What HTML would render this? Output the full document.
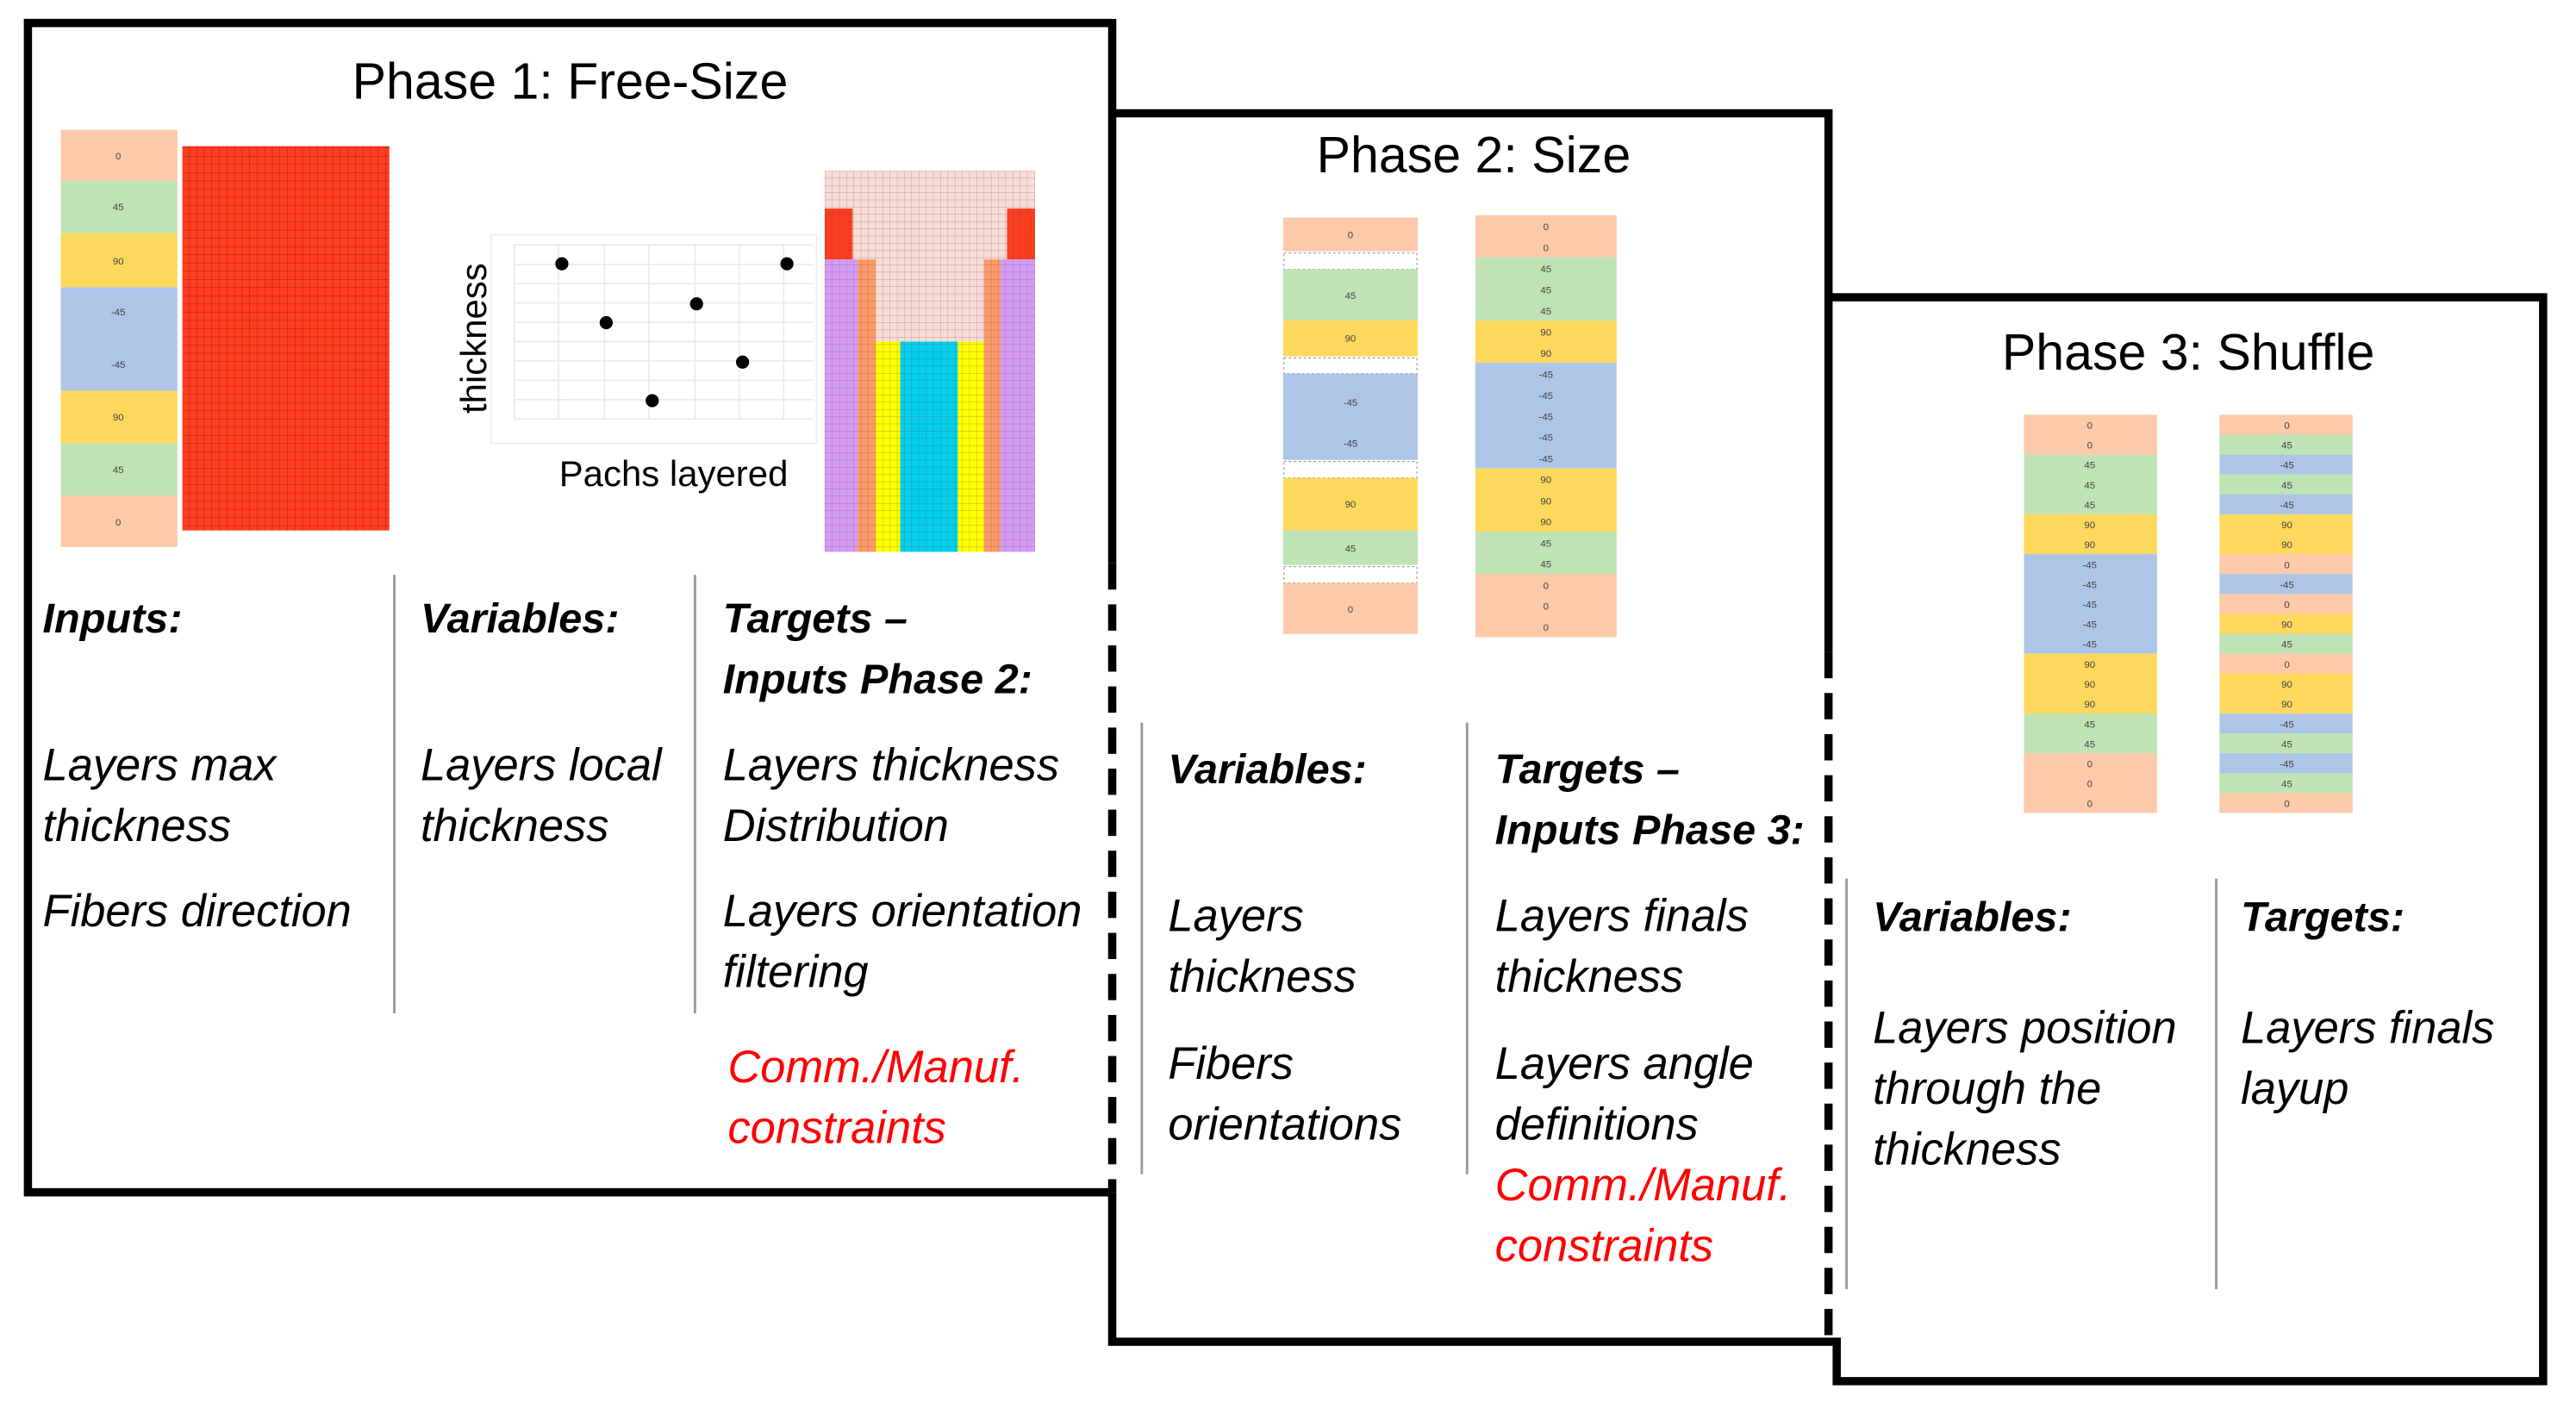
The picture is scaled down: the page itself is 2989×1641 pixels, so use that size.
<!DOCTYPE html>
<html><head><meta charset="utf-8"><style>
html,body{margin:0;padding:0;background:#fff;}
svg{display:block;}
text{font-family:"Liberation Sans",sans-serif;}
.t{font-size:31px;fill:#000;}
.h{font-size:25.5px;font-weight:bold;font-style:italic;fill:#000;}
.b{font-size:27.5px;font-style:italic;fill:#000;}
.r{font-size:27.5px;font-style:italic;fill:#f00;}
.s{font-size:6px;fill:#444;text-anchor:middle;}
</style></head><body>
<svg width="2989" height="1641" viewBox="0 0 1568 861" preserveAspectRatio="none" xmlns="http://www.w3.org/2000/svg">
<defs>
<pattern id="rg" width="4.6" height="5" patternUnits="userSpaceOnUse">
<rect width="4.6" height="5" fill="#ff3d1f"/>
<path d="M0 0H4.6M0 0V5" stroke="#a8200f" stroke-width="0.5"/>
</pattern>
<pattern id="pg" width="4.4" height="4.4" patternUnits="userSpaceOnUse" x="499" y="103">
<path d="M0 0H4.4M0 0V4.4" stroke="#7a4a50" stroke-width="0.35" opacity="0.6"/>
</pattern>
</defs>
<rect width="1568" height="861" fill="#fff"/>

<!-- Phase 1 -->
<text class="t" x="347" y="60" text-anchor="middle">Phase 1: Free-Size</text>
<rect x="37" y="79" width="71" height="31" fill="#fcc9a9"/>
<rect x="37" y="110" width="71" height="32" fill="#bfe3b4"/>
<rect x="37" y="142" width="71" height="33" fill="#fdd85d"/>
<rect x="37" y="175" width="71" height="63" fill="#aec5e7"/>
<rect x="37" y="238" width="71" height="32" fill="#fdd85d"/>
<rect x="37" y="270" width="71" height="32" fill="#bfe3b4"/>
<rect x="37" y="302" width="71" height="31" fill="#fcc9a9"/>
<text class="s" x="72" y="97">0</text><text class="s" x="72" y="128">45</text><text class="s" x="72" y="161">90</text>
<text class="s" x="72" y="192">-45</text><text class="s" x="72" y="224">-45</text><text class="s" x="72" y="256">90</text>
<text class="s" x="72" y="288">45</text><text class="s" x="72" y="320">0</text>
<rect x="111" y="89" width="126" height="234" fill="url(#rg)"/>

<!-- chart -->
<rect x="299" y="143" width="198" height="127" fill="none" stroke="#eee" stroke-width="1"/>
<g stroke="#e8e8e8" stroke-width="0.8">
<line x1="313" y1="149" x2="495" y2="149"/><line x1="313" y1="161" x2="495" y2="161"/><line x1="313" y1="172.6" x2="495" y2="172.6"/>
<line x1="313" y1="184.4" x2="495" y2="184.4"/><line x1="313" y1="196.2" x2="495" y2="196.2"/><line x1="313" y1="208" x2="495" y2="208"/>
<line x1="313" y1="219.8" x2="495" y2="219.8"/><line x1="313" y1="231.6" x2="495" y2="231.6"/><line x1="313" y1="243.4" x2="495" y2="243.4"/>
<line x1="313" y1="255" x2="495" y2="255"/>
<line x1="313" y1="149" x2="313" y2="255"/><line x1="340" y1="149" x2="340" y2="255"/><line x1="368" y1="149" x2="368" y2="255"/>
<line x1="395" y1="149" x2="395" y2="255"/><line x1="423" y1="149" x2="423" y2="255"/><line x1="450" y1="149" x2="450" y2="255"/><line x1="477" y1="149" x2="477" y2="255"/>
</g>
<g fill="#000">
<ellipse cx="342" cy="160.6" rx="4" ry="4"/><ellipse cx="369" cy="196.5" rx="4" ry="4"/><ellipse cx="397" cy="244" rx="4" ry="4"/>
<ellipse cx="424" cy="185" rx="4" ry="4"/><ellipse cx="452" cy="220.5" rx="4" ry="4"/><ellipse cx="479" cy="160.6" rx="4" ry="4"/>
</g>
<text x="296" y="206" font-size="22" text-anchor="middle" transform="rotate(-90 296 206)">thickness</text>
<text x="410" y="296" font-size="22" text-anchor="middle">Pachs layered</text>

<!-- patch figure -->
<g transform="translate(3,1)">
<rect x="499" y="103" width="128" height="232" fill="#f8dcd6"/>
<rect x="499" y="126" width="17" height="31" fill="#ff3d1f"/>
<rect x="610" y="126" width="17" height="31" fill="#ff3d1f"/>
<rect x="499" y="157" width="20" height="178" fill="#d49bf5"/>
<rect x="519" y="157" width="11" height="178" fill="#fb9a67"/>
<rect x="596" y="157" width="10" height="178" fill="#fb9a67"/>
<rect x="606" y="157" width="21" height="178" fill="#d49bf5"/>
<rect x="530" y="207" width="15" height="128" fill="#ffff00"/>
<rect x="545" y="207" width="35" height="128" fill="#00cfee"/>
<rect x="580" y="207" width="16" height="128" fill="#ffff00"/>
<rect x="499" y="103" width="128" height="232" fill="url(#pg)"/>
</g>

<!-- phase 1 text -->
<line x1="240" y1="350" x2="240" y2="617" stroke="#999" stroke-width="1.5"/>
<line x1="423" y1="350" x2="423" y2="617" stroke="#999" stroke-width="1.5"/>
<text class="h" x="26" y="385">Inputs:</text>
<text class="h" x="256" y="385">Variables:</text>
<text class="h" x="440" y="385">Targets –</text>
<text class="h" x="440" y="422">Inputs Phase 2:</text>
<text class="b" x="26" y="475">Layers max</text>
<text class="b" x="26" y="512">thickness</text>
<text class="b" x="26" y="564">Fibers direction</text>
<text class="b" x="256" y="475">Layers local</text>
<text class="b" x="256" y="512">thickness</text>
<text class="b" x="440" y="475">Layers thickness</text>
<text class="b" x="440" y="512">Distribution</text>
<text class="b" x="440" y="564">Layers orientation</text>
<text class="b" x="440" y="601">filtering</text>
<text class="r" x="443" y="659">Comm./Manuf.</text>
<text class="r" x="443" y="696">constraints</text>

<!-- Phase 2 -->
<text class="t" x="897" y="105" text-anchor="middle">Phase 2: Size</text>
<g transform="translate(4,1)">
<rect x="777" y="131.5" width="82" height="20.5" fill="#fcc9a9"/>
<rect x="777.5" y="153" width="81" height="10" fill="none" stroke="#999" stroke-width="0.6" stroke-dasharray="1.5 1.5"/>
<rect x="777" y="163" width="82" height="31" fill="#bfe3b4"/>
<rect x="777" y="194" width="82" height="22" fill="#fdd85d"/>
<rect x="777.5" y="217" width="81" height="9.5" fill="none" stroke="#999" stroke-width="0.6" stroke-dasharray="1.5 1.5"/>
<rect x="777" y="226.5" width="82" height="52.5" fill="#aec5e7"/>
<rect x="777.5" y="280" width="81" height="10" fill="none" stroke="#999" stroke-width="0.6" stroke-dasharray="1.5 1.5"/>
<rect x="777" y="290" width="82" height="32" fill="#fdd85d"/>
<rect x="777" y="322" width="82" height="21" fill="#bfe3b4"/>
<rect x="777.5" y="344" width="81" height="10" fill="none" stroke="#999" stroke-width="0.6" stroke-dasharray="1.5 1.5"/>
<rect x="777" y="354" width="82" height="31" fill="#fcc9a9"/>
<text class="s" x="818" y="144">0</text><text class="s" x="818" y="181">45</text><text class="s" x="818" y="207">90</text>
<text class="s" x="818" y="246">-45</text><text class="s" x="818" y="271">-45</text><text class="s" x="818" y="308">90</text>
<text class="s" x="818" y="335">45</text><text class="s" x="818" y="372">0</text>

<rect x="894" y="130" width="86" height="25.7" fill="#fcc9a9"/>
<rect x="894" y="155.7" width="86" height="38.55" fill="#bfe3b4"/>
<rect x="894" y="194.25" width="86" height="25.7" fill="#fdd85d"/>
<rect x="894" y="219.95" width="86" height="64.25" fill="#aec5e7"/>
<rect x="894" y="284.2" width="86" height="38.55" fill="#fdd85d"/>
<rect x="894" y="322.75" width="86" height="25.7" fill="#bfe3b4"/>
<rect x="894" y="348.45" width="86" height="38.55" fill="#fcc9a9"/>
<text class="s" x="937" y="139">0</text><text class="s" x="937" y="151.9">0</text><text class="s" x="937" y="164.7">45</text>
<text class="s" x="937" y="177.6">45</text><text class="s" x="937" y="190.4">45</text><text class="s" x="937" y="203.3">90</text>
<text class="s" x="937" y="216.1">90</text><text class="s" x="937" y="229">-45</text><text class="s" x="937" y="241.8">-45</text>
<text class="s" x="937" y="254.7">-45</text><text class="s" x="937" y="267.5">-45</text><text class="s" x="937" y="280.4">-45</text>
<text class="s" x="937" y="293.2">90</text><text class="s" x="937" y="306.1">90</text><text class="s" x="937" y="318.9">90</text>
<text class="s" x="937" y="331.8">45</text><text class="s" x="937" y="344.6">45</text><text class="s" x="937" y="357.5">0</text>
<text class="s" x="937" y="370.3">0</text><text class="s" x="937" y="383.2">0</text>
</g>

<line x1="695" y1="440" x2="695" y2="715" stroke="#999" stroke-width="1.5"/>
<line x1="893" y1="440" x2="893" y2="715" stroke="#999" stroke-width="1.5"/>
<text class="h" x="711" y="477">Variables:</text>
<text class="h" x="910" y="477">Targets –</text>
<text class="h" x="910" y="514">Inputs Phase 3:</text>
<text class="b" x="711" y="567">Layers</text>
<text class="b" x="711" y="604">thickness</text>
<text class="b" x="711" y="657">Fibers</text>
<text class="b" x="711" y="694">orientations</text>
<text class="b" x="910" y="567">Layers finals</text>
<text class="b" x="910" y="604">thickness</text>
<text class="b" x="910" y="657">Layers angle</text>
<text class="b" x="910" y="694">definitions</text>
<text class="r" x="910" y="731">Comm./Manuf.</text>
<text class="r" x="910" y="768">constraints</text>

<!-- Phase 3 -->
<text class="t" x="1332" y="225" text-anchor="middle">Phase 3: Shuffle</text>
<g transform="translate(6,2)">
<rect x="1226" y="250.5" width="81" height="24.3" fill="#fcc9a9"/>
<rect x="1226" y="274.8" width="81" height="36.4" fill="#bfe3b4"/>
<rect x="1226" y="311.2" width="81" height="24.2" fill="#fdd85d"/>
<rect x="1226" y="335.4" width="81" height="60.7" fill="#aec5e7"/>
<rect x="1226" y="396.1" width="81" height="36.4" fill="#fdd85d"/>
<rect x="1226" y="432.5" width="81" height="24.2" fill="#bfe3b4"/>
<rect x="1226" y="456.7" width="81" height="36.3" fill="#fcc9a9"/>
<text class="s" x="1266" y="259">0</text><text class="s" x="1266" y="271.1">0</text><text class="s" x="1266" y="283.3">45</text>
<text class="s" x="1266" y="295.4">45</text><text class="s" x="1266" y="307.5">45</text><text class="s" x="1266" y="319.7">90</text>
<text class="s" x="1266" y="331.8">90</text><text class="s" x="1266" y="343.9">-45</text><text class="s" x="1266" y="356">-45</text>
<text class="s" x="1266" y="368.2">-45</text><text class="s" x="1266" y="380.3">-45</text><text class="s" x="1266" y="392.4">-45</text>
<text class="s" x="1266" y="404.6">90</text><text class="s" x="1266" y="416.7">90</text><text class="s" x="1266" y="428.8">90</text>
<text class="s" x="1266" y="441">45</text><text class="s" x="1266" y="453.1">45</text><text class="s" x="1266" y="465.2">0</text>
<text class="s" x="1266" y="477.3">0</text><text class="s" x="1266" y="489.5">0</text>
</g>
<g transform="translate(7,2)">
<rect x="1344" y="250.5" width="81" height="12.2" fill="#fcc9a9"/>
<rect x="1344" y="262.6" width="81" height="12.2" fill="#bfe3b4"/>
<rect x="1344" y="274.8" width="81" height="12.2" fill="#aec5e7"/>
<rect x="1344" y="286.9" width="81" height="12.2" fill="#bfe3b4"/>
<rect x="1344" y="299.0" width="81" height="12.2" fill="#aec5e7"/>
<rect x="1344" y="311.2" width="81" height="24.2" fill="#fdd85d"/>
<rect x="1344" y="335.4" width="81" height="12.2" fill="#fcc9a9"/>
<rect x="1344" y="347.5" width="81" height="12.2" fill="#aec5e7"/>
<rect x="1344" y="359.7" width="81" height="12.2" fill="#fcc9a9"/>
<rect x="1344" y="371.8" width="81" height="12.2" fill="#fdd85d"/>
<rect x="1344" y="383.9" width="81" height="12.2" fill="#bfe3b4"/>
<rect x="1344" y="396.1" width="81" height="12.2" fill="#fcc9a9"/>
<rect x="1344" y="408.2" width="81" height="24.3" fill="#fdd85d"/>
<rect x="1344" y="432.5" width="81" height="12.2" fill="#aec5e7"/>
<rect x="1344" y="444.6" width="81" height="12.2" fill="#bfe3b4"/>
<rect x="1344" y="456.7" width="81" height="12.2" fill="#aec5e7"/>
<rect x="1344" y="468.8" width="81" height="12.2" fill="#bfe3b4"/>
<rect x="1344" y="481.0" width="81" height="12" fill="#fcc9a9"/>
<text class="s" x="1385" y="259">0</text><text class="s" x="1385" y="271.1">45</text><text class="s" x="1385" y="283.3">-45</text>
<text class="s" x="1385" y="295.4">45</text><text class="s" x="1385" y="307.5">-45</text><text class="s" x="1385" y="319.7">90</text>
<text class="s" x="1385" y="331.8">90</text><text class="s" x="1385" y="343.9">0</text><text class="s" x="1385" y="356">-45</text>
<text class="s" x="1385" y="368.2">0</text><text class="s" x="1385" y="380.3">90</text><text class="s" x="1385" y="392.4">45</text>
<text class="s" x="1385" y="404.6">0</text><text class="s" x="1385" y="416.7">90</text><text class="s" x="1385" y="428.8">90</text>
<text class="s" x="1385" y="441">-45</text><text class="s" x="1385" y="453.1">45</text><text class="s" x="1385" y="465.2">-45</text>
<text class="s" x="1385" y="477.3">45</text><text class="s" x="1385" y="489.5">0</text>
</g>

<line x1="1124" y1="535" x2="1124" y2="785" stroke="#999" stroke-width="1.5"/>
<line x1="1349" y1="535" x2="1349" y2="785" stroke="#999" stroke-width="1.5"/>
<text class="h" x="1140" y="567">Variables:</text>
<text class="h" x="1364" y="567">Targets:</text>
<text class="b" x="1140" y="635">Layers position</text>
<text class="b" x="1140" y="672">through the</text>
<text class="b" x="1140" y="709">thickness</text>
<text class="b" x="1364" y="635">Layers finals</text>
<text class="b" x="1364" y="672">layup</text>

<!-- borders -->
<g stroke="#000" stroke-width="5" fill="none">
<path d="M677 343 V14 H17 V726 H677"/>
<path d="M677 343 V726" stroke-dasharray="16 9"/>
<path d="M677 69 H1113 V397"/>
<path d="M677 726 V817 H1118 V841 H1548 V181 H1113"/>
<path d="M1113 397 V817" stroke-dasharray="16 9"/>
</g>
</svg>
</body></html>
